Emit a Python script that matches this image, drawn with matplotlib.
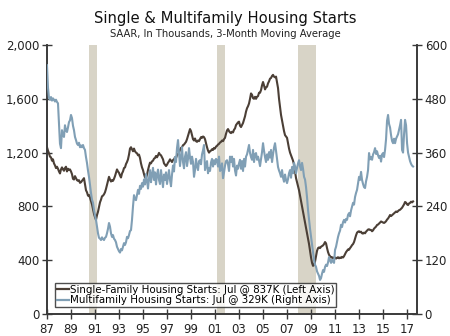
import numpy as np
import matplotlib
matplotlib.use("Agg")
from matplotlib import pyplot as plt
from matplotlib.lines import Line2D

# monthly values, 3-month moving average, SAAR thousands, Jan 1987 - Jul 2017
single_family = [
    1240, 1215, 1195, 1170, 1165, 1140, 1150, 1120, 1105, 1085, 1095, 1080,  # 1987
    1060, 1045, 1075, 1090, 1075, 1065, 1085, 1095, 1060, 1080, 1070, 1075,  # 1988
    1060, 1040, 1005, 1000, 1025, 1010, 995, 990, 995, 975, 980, 990,  # 1989
    1000, 1010, 965, 920, 905, 880, 885, 865, 840, 815, 780, 745,  # 1990
    720, 700, 735, 760, 795, 830, 850, 875, 880, 890, 905, 930,  # 1991
    960, 990, 1020, 1000, 985, 995, 990, 1005, 1025, 1050, 1075, 1060,  # 1992
    1050, 1030, 1015, 1045, 1060, 1085, 1090, 1115, 1130, 1150, 1185, 1230,  # 1993
    1240, 1225, 1210, 1230, 1210, 1200, 1195, 1180, 1185, 1160, 1120, 1090,  # 1994
    1070, 1040, 1015, 1010, 1035, 1070, 1100, 1125, 1120, 1135, 1140, 1155,  # 1995
    1160, 1175, 1165, 1180, 1198, 1185, 1180, 1165, 1150, 1120, 1110, 1100,  # 1996
    1110, 1125, 1135, 1150, 1140, 1130, 1145, 1150, 1165, 1160, 1180, 1190,  # 1997
    1200, 1220, 1235, 1240, 1255, 1260, 1270, 1280, 1300, 1325, 1350, 1375,  # 1998
    1360, 1330, 1300, 1290, 1305, 1285, 1280, 1290, 1285, 1300, 1315, 1310,  # 1999
    1320, 1315, 1300, 1270, 1240, 1215, 1200, 1210, 1215, 1225, 1220, 1235,  # 2000
    1230, 1245, 1250, 1260, 1265, 1275, 1280, 1290, 1285, 1300, 1310, 1340,  # 2001
    1365, 1375, 1360, 1350, 1345, 1355, 1350, 1370, 1380, 1405, 1415, 1425,  # 2002
    1430, 1400, 1390, 1405, 1420, 1445, 1470, 1505, 1530, 1545, 1565, 1600,  # 2003
    1640, 1630, 1605, 1600, 1615, 1600, 1615, 1620, 1645, 1645, 1665, 1700,  # 2004
    1725, 1700, 1670, 1685, 1690, 1715, 1730, 1750, 1755, 1770, 1778, 1765,  # 2005
    1760, 1765, 1720, 1680, 1600, 1540, 1480, 1440, 1400, 1360, 1330, 1320,  # 2006
    1310, 1270, 1230, 1200, 1180, 1160, 1140, 1110, 1060, 1010, 980, 950,  # 2007
    920, 880, 840, 800, 760, 720, 680, 640, 600, 560, 520, 470,  # 2008
    420, 380, 358, 365, 390, 430, 470, 490, 495, 490, 500, 505,  # 2009
    510, 520, 535, 525, 490, 460, 440, 430, 420, 422, 415, 420,  # 2010
    420, 412, 418, 422, 414, 420, 416, 425, 420, 430, 445, 460,  # 2011
    470, 480, 478, 490, 500, 512, 520, 535, 560, 585, 605, 612,  # 2012
    615, 608, 612, 600, 598, 605, 600, 612, 620, 628, 630, 625,  # 2013
    625, 615, 622, 635, 642, 650, 662, 665, 672, 680, 688, 684,  # 2014
    680, 677, 682, 690, 702, 710, 722, 736, 728, 735, 742, 750,  # 2015
    755, 762, 758, 765, 772, 775, 782, 790, 802, 815, 833, 828,  # 2016
    815, 810, 822, 826, 835, 830, 837,  # 2017
]

multifamily = [
    555, 505, 482, 478, 484, 476, 481, 478, 474, 478, 473, 470,  # 1987
    426, 380, 370, 410, 398, 395, 421, 410, 406, 416, 428, 432,  # 1988
    444, 437, 420, 410, 395, 388, 380, 377, 382, 372, 376, 372,  # 1989
    377, 370, 366, 350, 337, 320, 306, 288, 270, 255, 248, 232,  # 1990
    220, 210, 195, 180, 170, 168, 165, 171, 167, 165, 170, 172,  # 1991
    180, 190, 203, 195, 180, 172, 176, 168, 165, 160, 150, 145,  # 1992
    140, 137, 145, 142, 150, 158, 154, 160, 172, 169, 176, 185,  # 1993
    187, 210, 240, 265, 256, 254, 266, 277, 268, 286, 279, 292,  # 1994
    284, 300, 289, 312, 298, 280, 302, 321, 294, 311, 326, 299,  # 1995
    316, 289, 311, 322, 299, 290, 321, 301, 283, 311, 299, 316,  # 1996
    290, 306, 321, 299, 285, 311, 331, 318, 350, 339, 370, 388,  # 1997
    360, 330, 351, 372, 339, 325, 351, 361, 330, 346, 370, 349,  # 1998
    335, 351, 339, 306, 321, 346, 329, 321, 341, 343, 334, 356,  # 1999
    365, 377, 321, 331, 341, 314, 326, 319, 338, 346, 329, 343,  # 2000
    334, 346, 343, 329, 351, 319, 322, 336, 303, 316, 331, 341,  # 2001
    343, 334, 319, 351, 339, 351, 329, 346, 320, 309, 331, 324,  # 2002
    336, 344, 324, 341, 319, 346, 329, 351, 356, 366, 377, 359,  # 2003
    350, 344, 366, 339, 356, 359, 344, 351, 342, 330, 346, 361,  # 2004
    381, 364, 350, 339, 356, 344, 361, 349, 366, 339, 356, 371,  # 2005
    381, 364, 345, 328, 320, 314, 306, 321, 304, 295, 311, 299,  # 2006
    292, 301, 314, 321, 304, 328, 314, 337, 329, 314, 326, 336,  # 2007
    343, 329, 321, 337, 324, 306, 300, 283, 260, 232, 210, 190,  # 2008
    172, 155, 136, 120, 110, 105, 95, 90, 85, 76, 80, 90,  # 2009
    98, 94, 105, 110, 107, 115, 127, 120, 114, 121, 117, 114,  # 2010
    143, 150, 161, 172, 180, 186, 199, 194, 205, 210, 204, 212,  # 2011
    210, 221, 225, 218, 231, 240, 248, 244, 261, 270, 277, 291,  # 2012
    306, 299, 317, 299, 290, 283, 281, 296, 306, 321, 359, 345,  # 2013
    350, 344, 356, 361, 370, 357, 363, 354, 348, 353, 340, 356,  # 2014
    359, 350, 366, 390, 431, 444, 424, 416, 399, 386, 381, 391,  # 2015
    381, 391, 396, 401, 411, 421, 433, 366, 360, 401, 433, 421,  # 2016
    381, 360, 350, 341, 335, 331, 329,  # 2017
]

recessions = [(1990 + 6/12, 1991 + 2/12), (2001 + 2/12, 2001 + 10/12), (2007 + 11/12, 2009 + 5/12)]
x_labels = ["87", "89", "91", "93", "95", "97", "99", "01", "03", "05", "07", "09", "11", "13", "15", "17"]
left_ticks = [0, 400, 800, 1200, 1600, 2000]
right_ticks = [0, 120, 240, 360, 480, 600]

sf_color = "#4b3f36"
mf_color = "#809fb5"
band_color = "#d8d4c7"
axis_color = "#3a3a3a"

t = 1987 + np.arange(len(single_family)) / 12.0

fig = plt.figure(figsize=(4.5, 3.36), dpi=100)
ax = fig.add_axes([0.1044, 0.0655, 0.8223, 0.8005])
ax2 = ax.twinx()

for start, end in recessions:
    ax.axvspan(start, end, color=band_color, lw=0, zorder=0)

ax.plot(t, single_family, color=sf_color, lw=1.5, zorder=3)
ax2.plot(t, multifamily, color=mf_color, lw=1.5, zorder=3)

ax.set_xlim(1987, 2017.83)
ax.set_ylim(0, 2000)
ax2.set_ylim(0, 600)

ax.set_xticks(np.arange(1987, 2018, 2))
ax.set_xticklabels(x_labels)
ax.set_yticks(left_ticks)
ax.set_yticklabels([f"{v:,}" for v in left_ticks])
ax2.set_yticks(right_ticks)
ax2.set_yticklabels([str(v) for v in right_ticks])

for a in (ax, ax2):
    a.spines["top"].set_visible(False)
    for s in ("left", "right", "bottom"):
        a.spines[s].set_color(axis_color)
        a.spines[s].set_linewidth(1.2)
    a.tick_params(direction="inout", length=7, width=1.0, color=axis_color,
                  labelsize=8.5, labelcolor="#222222", pad=2)
ax.tick_params(axis="x", pad=3)

fig.text(0.5, 0.945, "Single & Multifamily Housing Starts", ha="center", va="center",
         fontsize=10.6, color="#111111")
fig.text(0.5, 0.898, "SAAR, In Thousands, 3-Month Moving Average", ha="center", va="center",
         fontsize=7.2, color="#222222")

handles = [Line2D([], [], color=sf_color, lw=1.6), Line2D([], [], color=mf_color, lw=1.6)]
labels = ["Single-Family Housing Starts: Jul @ 837K (Left Axis)",
          "Multifamily Housing Starts: Jul @ 329K (Right Axis)"]
leg = ax2.legend(handles, labels, loc="lower left", bbox_to_anchor=(0.022, 0.026),
                 borderaxespad=0, fontsize=7.4, frameon=True, fancybox=False,
                 handlelength=1.2, handletextpad=0.1, borderpad=0.15, labelspacing=0.05)
leg.get_frame().set_edgecolor("#222222")
leg.get_frame().set_linewidth(1.0)

fig.savefig("out.png", dpi=100)
